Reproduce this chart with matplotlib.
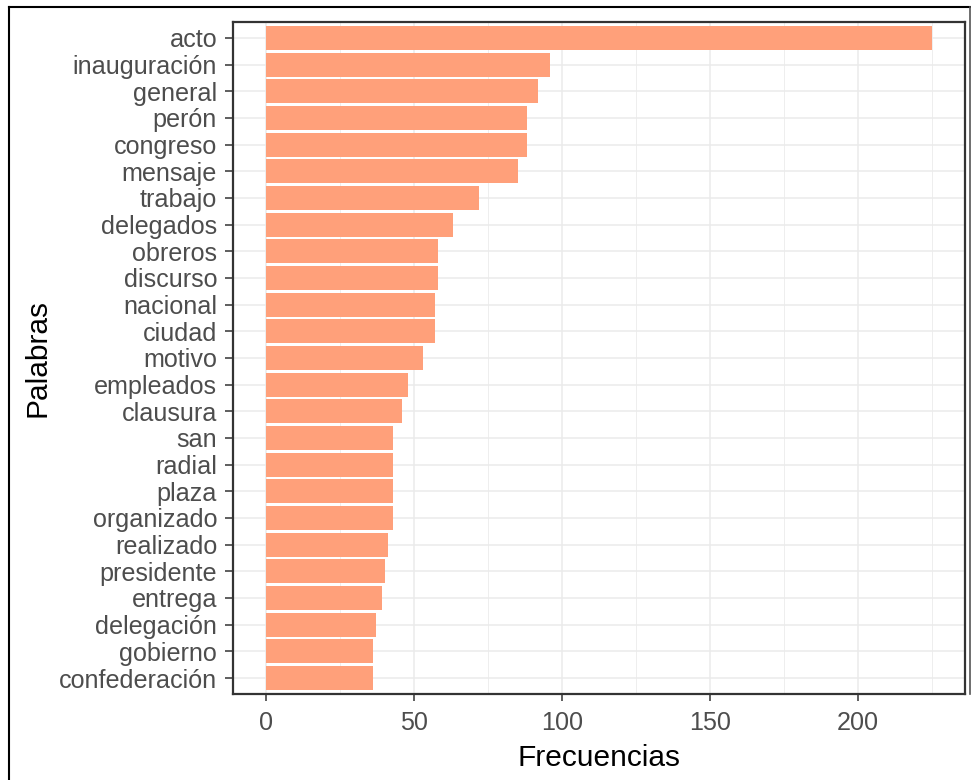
import matplotlib
matplotlib.use("Agg")
import matplotlib.pyplot as plt
from matplotlib.lines import Line2D
import numpy as np

plt.rcParams['font.family'] = ['Liberation Sans', 'DejaVu Sans']

palabras = ["acto", "inauguración", "general", "perón", "congreso", "mensaje",
            "trabajo", "delegados", "obreros", "discurso", "nacional", "ciudad",
            "motivo", "empleados", "clausura", "san", "radial", "plaza",
            "organizado", "realizado", "presidente", "entrega", "delegación",
            "gobierno", "confederación"]
frecuencias = [225, 96, 92, 88, 88, 85, 72, 63, 58, 58, 57, 57, 53, 48, 46,
               43, 43, 43, 43, 41, 40, 39, 37, 36, 36]
x_ticks = [0, 50, 100, 150, 200]

W, H = 971, 780
fig = plt.figure(figsize=(W / 100, H / 100), dpi=100)
ax = fig.add_axes([233 / W, 1 - 694 / H, (965 - 233) / W, (694 - 22) / H])

n = len(palabras)
ypos = np.arange(n)[::-1]
ax.barh(ypos, frecuencias, height=0.9, color="#FFA07A", zorder=3)

xmax = max(frecuencias)
ax.set_xlim(-0.05 * xmax, 1.05 * xmax)
ax.set_ylim(-0.6, n - 1 + 0.6)

ax.set_xticks(x_ticks)
ax.set_xticks([25, 75, 125, 175, 225], minor=True)
ax.set_yticks(ypos)
ax.set_yticklabels(palabras)

ax.grid(which="major", axis="both", color="#EBEBEB", linewidth=1.1, zorder=0)
ax.grid(which="minor", axis="x", color="#EBEBEB", linewidth=0.6, zorder=0)
ax.tick_params(axis="both", which="major", labelsize=18.1, labelcolor="#4D4D4D",
               color="#333333", width=1.1)
ax.tick_params(axis="x", which="major", length=5, pad=7.5)
ax.tick_params(axis="y", which="major", length=5.5, pad=6)
ax.tick_params(axis="both", which="minor", length=0)

for s in ax.spines.values():
    s.set_color("#333333")
    s.set_linewidth(1.6)

ax.set_xlabel("Frecuencias", fontsize=21.5, color="black", labelpad=6)
ax.set_ylabel("Palabras", fontsize=21.5, color="black", labelpad=5)
ax.set_axisbelow(True)

# outer frame of the screenshot
fig.add_artist(Line2D([9 / W, 9 / W], [0, 1 - 7 / H], transform=fig.transFigure,
                      color="black", linewidth=1.5))
fig.add_artist(Line2D([9 / W, 1], [1 - 7 / H, 1 - 7 / H], transform=fig.transFigure,
                      color="black", linewidth=1.5))
fig.add_artist(Line2D([969.5 / W, 969.5 / W], [1 - 694 / H, 1 - 7 / H],
                      transform=fig.transFigure, color="#555555", linewidth=1.2))

fig.savefig("out.png", dpi=100)
